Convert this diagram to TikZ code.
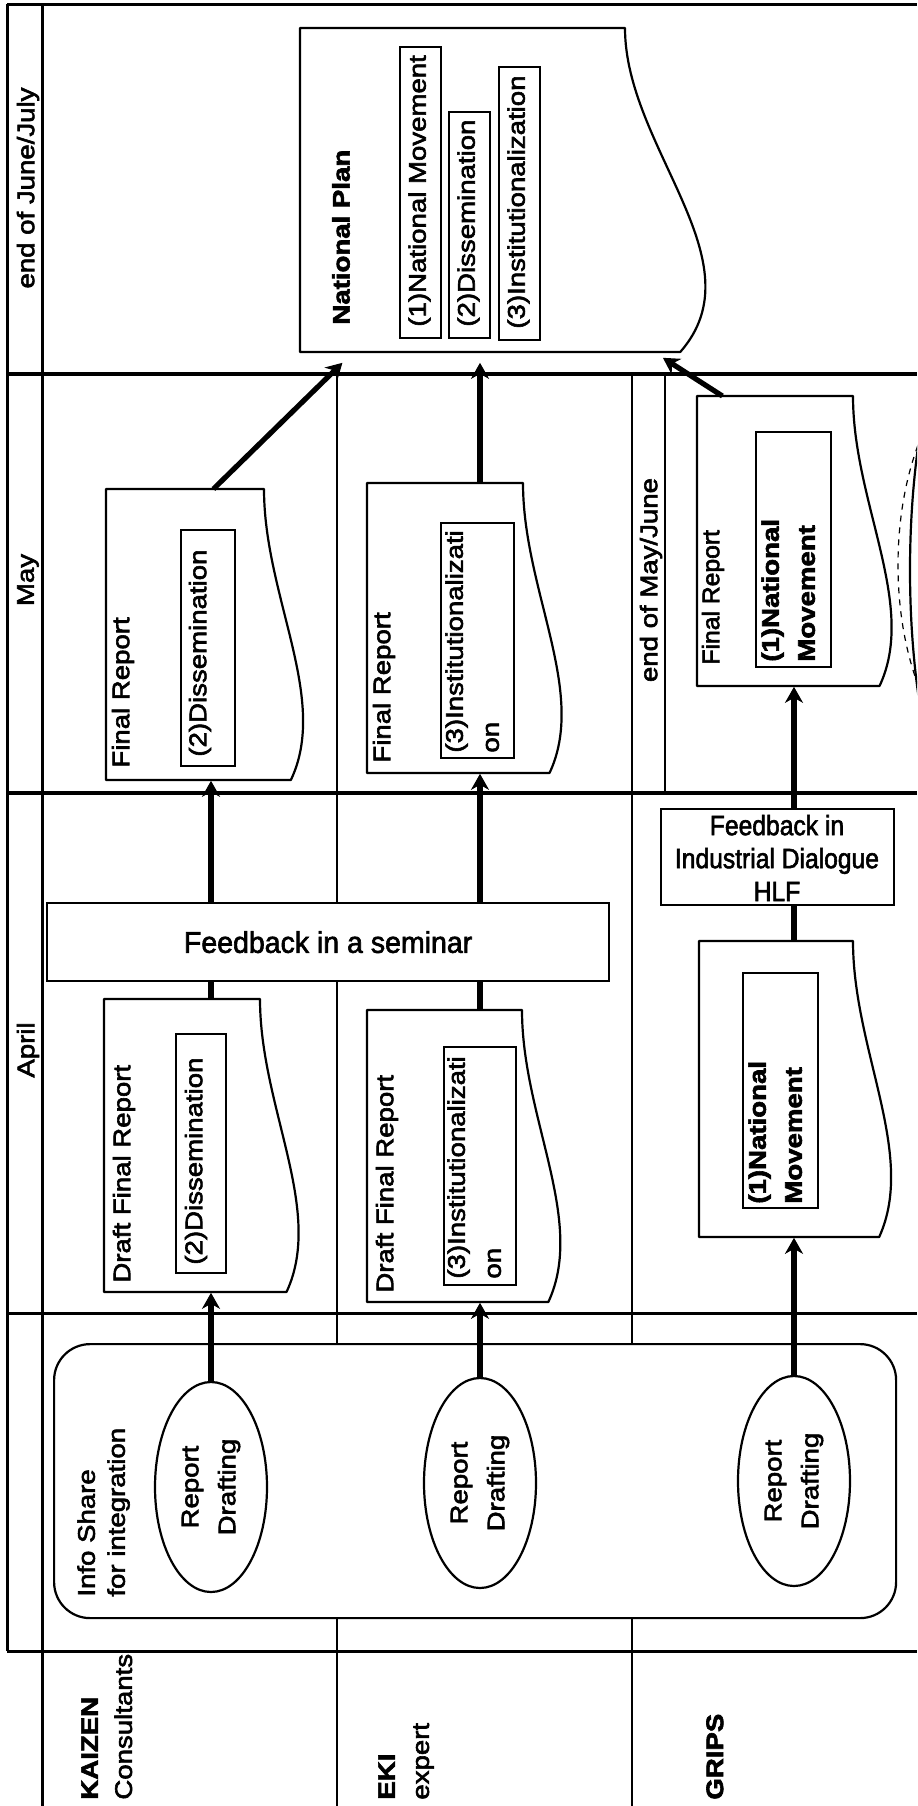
\documentclass[tikz,border=0pt]{standalone}
\usepackage{fontspec}
\setmainfont{Liberation Sans}
\newfontfamily\rotfont[FakeStretch=1.15,FakeBold=2.5]{Liberation Sans}
\newfontfamily\rotnfont[FakeStretch=1.03,FakeBold=2.5]{Liberation Sans}
\newfontfamily\horfont[FakeStretch=0.95,FakeBold=2]{Liberation Sans}
\newfontfamily\hornfont[FakeStretch=0.88,FakeBold=2]{Liberation Sans}
\usetikzlibrary{arrows.meta,shapes.geometric,calc}
\tikzset{
  frame/.style={line width=1.5pt},
  sepline/.style={line width=2.2pt},
  lane/.style={line width=1.1pt},
  docline/.style={line width=1.1pt, fill=white, line join=round},
  ibox/.style={draw, line width=1.1pt, inner sep=0, fill=white, anchor=north west},
  rtext/.style={rotate=90, inner sep=0, font=\rotfont\fontsize{12}{16}\selectfont},
  rtwo/.style={rotate=90, inner sep=0, anchor=north west, align=left, font=\rotfont\fontsize{12}{18}\selectfont},
  rtwob/.style={rotate=90, inner sep=0, anchor=north west, align=left, font=\rotfont\bfseries\fontsize{12}{18}\selectfont},
  htext/.style={inner sep=0, font=\hornfont\fontsize{14}{16.5}\selectfont},
  hbox/.style={draw, fill=white, line width=1.1pt, inner sep=0, anchor=north west},
  ell/.style={ellipse, draw, line width=1.1pt, fill=white, inner sep=0, rotate=90,
    minimum width=105pt, minimum height=56pt, align=center,
    font=\rotfont\fontsize{12}{18.5}\selectfont},
  arr/.style={line width=2.6pt, -{Stealth[length=8pt,width=9pt,inset=2.5pt]}},
  conn/.style={line width=2.6pt},
}
\newcommand\mydoc[5]{%
  \pgfmathsetmacro\mydW{#4-#2}%
  \pgfmathsetmacro\mydH{#5-#3}%
  \filldraw[docline] (#2,#3) -- (#4,#3) .. controls (#4,{#3+0.37*\mydH}) and ({#4+0.415*\mydW},{#3+0.72*\mydH}) .. ({#4+0.17*\mydW},#5) -- (#2,#5) -- cycle;
  \node[inner sep=0, minimum width={\mydW*0.5pt}, minimum height={\mydH*0.5pt}, anchor=north west] (#1) at (#2,#3) {};
}
\begin{document}
\begin{tikzpicture}[x=0.5pt,y=-0.5pt]
\useasboundingbox (0,0) rectangle (917,1806);
\fill[white] (0,0) rectangle (917,1806);
\clip (0,0) rectangle (917,1806);

% frame and grid
\draw[frame] (7,4) -- (917,4);
\draw[frame] (7,4) -- (7,1651);
\draw[frame] (42,4) -- (42,1806);
\draw[sepline] (7,374) -- (917,374);
\draw[sepline] (7,793) -- (917,793);
\draw[frame] (7,1313) -- (917,1313);
\draw[frame] (7,1651) -- (917,1651);
\draw[lane] (337,374) -- (337,1806);
\draw[lane] (632,374) -- (632,1806);
\draw[lane] (665,374) -- (665,793);

% month labels
\node[rtext] (mJJ) at (28,188) {end of June/July};
\node[rtext] (mMay) at (28,580) {May};
\node[rtext] (mApr) at (28,1050) {April};
\node[rtext] (mMJ) at (651,580) {end of May/June};

% partial shape at right edge
\draw[line width=0.6pt, dashed] (1010,565) ellipse [x radius=56pt, y radius=105pt];
\draw[line width=1.1pt] (1022,570) ellipse [x radius=56pt, y radius=165pt];

% National Plan
\mydoc{np}{300}{28}{625}{352}
\node[rtext, anchor=west, font=\rotfont\bfseries\fontsize{12}{16}\selectfont] (npt) at (341,325) {National Plan};
\node[ibox, minimum width=20.5pt, minimum height=145.5pt] (np1) at (399,46) {};
\node[ibox, minimum width=20.5pt, minimum height=113pt] (np2) at (448,111) {};
\node[ibox, minimum width=20.5pt, minimum height=136.5pt] (np3) at (498,66) {};
\node[rtext, anchor=west] (np1t) at (419.5,327) {(1)National Movement};
\node[rtext, anchor=west] (np2t) at (468.5,327) {(2)Dissemination};
\node[rtext, anchor=west] (np3t) at (518.5,329) {(3)Institutionalization};

% KAIZEN final report
\mydoc{kfr}{106}{489}{264}{780}
\node[rtext, anchor=west] (kfrt) at (123,768) {Final Report};
\node[ibox, minimum width=27pt, minimum height=118pt] (kfri) at (180,529) {};
\node[rtext, anchor=west] (kfrit) at (200,757) {(2)Dissemination};

% KAIZEN draft
\mydoc{kdfr}{104}{999}{260}{1292}
\node[rtext, anchor=west] (kdfrt) at (124,1283) {Draft Final Report};
\node[ibox, minimum width=25pt, minimum height=119.5pt] (kdfri) at (175,1033) {};
\node[rtext, anchor=west] (kdfrit) at (196,1265) {(2)Dissemination};

% EKI final report
\mydoc{efr}{367}{483}{523}{773}
\node[rtext, anchor=west] (efrt) at (384,763) {Final Report};
\node[ibox, minimum width=36.5pt, minimum height=117.5pt] (efri) at (440,522) {};
\node[rtwo] (efrit) at (445,753) {(3)Institutionalizati\\on};

% EKI draft
\mydoc{edfr}{367}{1010}{522}{1302}
\node[rtext, anchor=west] (edfrt) at (387,1293) {Draft Final Report};
\node[ibox, minimum width=36pt, minimum height=119pt] (edfri) at (443,1046) {};
\node[rtwo] (edfrit) at (447,1279) {(3)Institutionalizati\\on};

% GRIPS final report
\mydoc{gfr}{697}{396}{853}{686}
\node[rtext, anchor=west, font=\rotnfont\fontsize{12}{16}\selectfont] (gfrt) at (713,665) {Final Report};
\node[ibox, minimum width=37.5pt, minimum height=117.5pt] (gfri) at (755,431) {};
\node[rtwob] (gfrit) at (761,662) {(1)National\\Movement};

% GRIPS draft
\mydoc{gdr}{699}{941}{853}{1237}
\node[ibox, minimum width=37.5pt, minimum height=117.5pt] (gdri) at (742,972) {};
\node[rtwob] (gdrit) at (748,1204) {(1)National\\Movement};

% feedback boxes
\node[hbox, minimum width=281pt, minimum height=39pt, font=\horfont\fontsize{15}{17}\selectfont] (sem) at (46,902) {Feedback in a seminar};
\node[hbox, minimum width=116.5pt, minimum height=48pt] (fidh) at (660,808) {};
\node[htext, align=center] (fidht) at (777,858) {Feedback in\\Industrial Dialogue\\HLF};

% info share
\node[draw, fill=white, line width=1.1pt, rounded corners=18pt, minimum width=421pt, minimum height=137pt, anchor=north west, inner sep=0] (share) at (53,1343) {};
\node[rotate=90, inner sep=0, anchor=north west, align=left, font=\rotfont\fontsize{12}{15}\selectfont] (sharet) at (77,1597) {Info Share\\for integration};
\node[ell] (kell) at (211,1487) {Report\\Drafting};
\node[ell] (eell) at (480,1483) {Report\\Drafting};
\node[ell] (gell) at (794,1481) {Report\\Drafting};

% lane labels
\node[rotate=90, inner sep=0, anchor=north west, align=left, font=\rotfont\fontsize{12}{17}\selectfont] (lK) at (81,1800) {\textbf{KAIZEN}\\Consultants};
\node[rotate=90, inner sep=0, anchor=north west, align=left, font=\rotfont\fontsize{12}{17}\selectfont] (lE) at (378,1800) {\textbf{EKI}\\expert};
\node[rotate=90, inner sep=0, anchor=north west, align=left, font=\rotfont\bfseries\fontsize{12}{17}\selectfont] (lG) at (706,1800) {GRIPS};

% connectors KAIZEN
\draw[arr] (kell.east) -- (kell.east |- kdfr.south);
\draw[conn] (kell.east |- kdfr.north) -- (kell.east |- sem.south);
\draw[arr] (kell.east |- sem.north) -- (kell.east |- kfr.south);
\draw[arr] ([xshift=14pt]kfr.north) -- ([xshift=-60.25pt,yshift=-5pt]np.south);
% connectors EKI
\draw[arr] (eell.east) -- (eell.east |- edfr.south);
\draw[conn] (eell.east |- edfr.north) -- (eell.east |- sem.south);
\draw[arr] (eell.east |- sem.north) -- (eell.east |- efr.south);
\draw[arr] (eell.east |- efr.north) -- ([yshift=-5pt]eell.east |- np.south);
% connectors GRIPS
\draw[arr] (gell.east) -- (gell.east |- gdr.south);
\draw[conn] (gell.east |- gdr.north) -- (gell.east |- fidh.south);
\draw[arr] (gell.east |- fidh.north) -- (gell.east |- gfr.south);
\draw[arr] ([xshift=-26.5pt]gfr.north) -- ([xshift=100pt,yshift=-2.5pt]np.south);
\end{tikzpicture}
\end{document}
